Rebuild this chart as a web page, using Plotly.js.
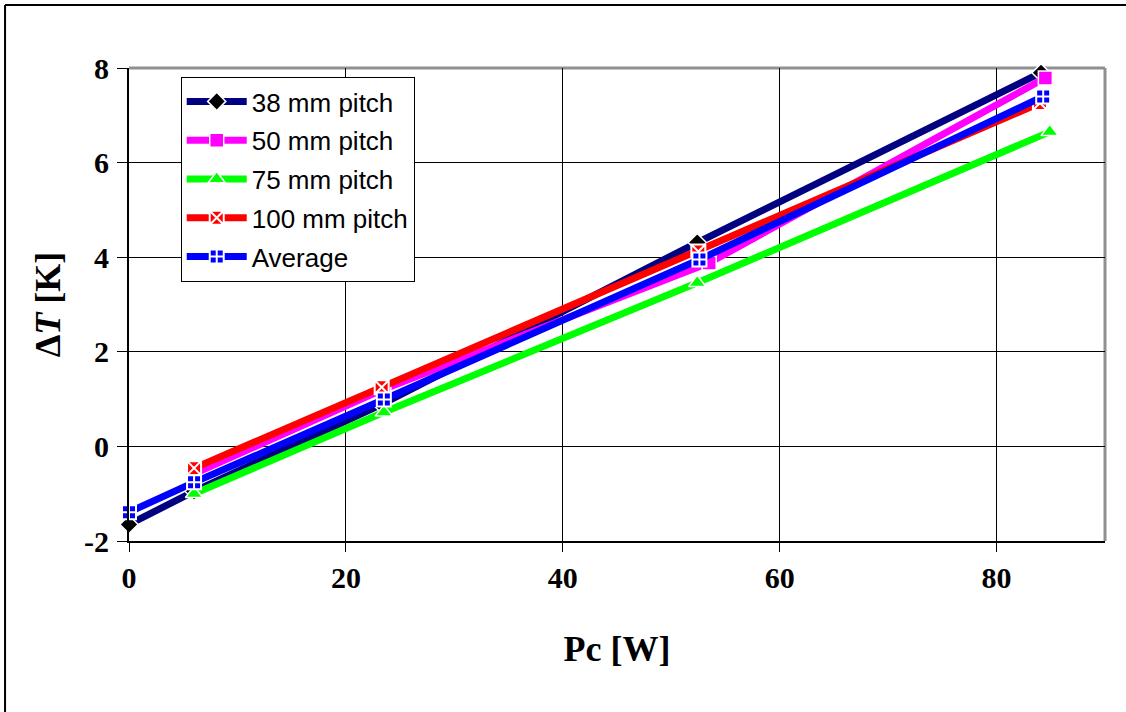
<!DOCTYPE html>
<html>
<head>
<meta charset="utf-8">
<script src="https://cdn.plot.ly/plotly-3.0.1.min.js"></script>
<style>html,body{margin:0;padding:0;background:#fff;}</style>
</head>
<body>
<div id="chart" style="width:1126px;height:712px;"></div>
<script>
// Data
const seriesNames = ["38 mm pitch", "50 mm pitch", "75 mm pitch", "100 mm pitch", "Average"];
const x38 = [0, 6, 23.3, 52.4, 84.1];
const y38 = [-1.65, -0.95, 0.89, 4.31, 7.9];
const x50 = [6, 23.5, 53.5, 84.5];
const y50 = [-0.58, 1.21, 3.88, 7.79];
const x75 = [6, 23.5, 52.4, 84.9];
const y75 = [-1.0, 0.72, 3.46, 6.65];
const x100 = [6, 23.3, 52.5, 84.0];
const y100 = [-0.46, 1.25, 4.12, 7.26];
const xAvg = [0, 6, 23.5, 52.6, 84.3];
const yAvg = [-1.39, -0.76, 0.99, 3.95, 7.4];
const xTickVals = [0, 20, 40, 60, 80];
const xTickText = ["0", "20", "40", "60", "80"];
const yTickVals = [-2, 0, 2, 4, 6, 8];
const yTickText = ["-2", "0", "2", "4", "6", "8"];

const lineW = 7;
function mk(name, xs, ys, color, symbol, size, mcolor, lcolor, lw, grp) {
  return {
    type: "scatter", mode: "lines+markers", name: name, x: xs, y: ys,
    legendgroup: grp, cliponaxis: false,
    line: {color: color, width: lineW},
    marker: {symbol: symbol, size: size, color: mcolor, line: {color: lcolor, width: lw}}
  };
}
const traces = [
  mk(seriesNames[0], x38, y38, "#000080", "diamond", 14, "#000000", "#ffffff", 1.5, "a"),
  mk(seriesNames[1], x50, y50, "#ff00ff", "square", 14, "#ff00ff", "#ffffff", 1.5, "b"),
  mk(seriesNames[2], x75, y75, "#00ff00", "triangle-up", 15, "#00ff00", "#ffffff", 1.5, "c"),
  mk(seriesNames[3], x100, y100, "#ff0000", "square-x", 14, "#ff0000", "#ffffff", 2, "d"),
  mk(seriesNames[4], xAvg, yAvg, "#0000ff", "square-cross", 14, "#0000ff", "#ffffff", 2, "e")
];

const tickFont = {family: "Liberation Serif, Times New Roman, serif", size: 30, color: "#000", weight: "bold"};
const titleFont = {family: "Liberation Serif, Times New Roman, serif", size: 36, color: "#000", weight: "bold"};

const layout = {
  width: 1126, height: 712,
  margin: {l: 129, r: 21, t: 68, b: 171},
  paper_bgcolor: "#ffffff", plot_bgcolor: "#ffffff",
  showlegend: true,
  legend: {
    x: 0.053, y: 0.981, xanchor: "left", yanchor: "top",
    bgcolor: "#ffffff", bordercolor: "#000000", borderwidth: 1,
    font: {family: "Liberation Sans, Arial, sans-serif", size: 26, color: "#000"},
    itemwidth: 60, tracegroupgap: 2
  },
  xaxis: {
    range: [0, 90], tickvals: xTickVals, ticktext: xTickText,
    showgrid: true, gridcolor: "#000000", gridwidth: 1, zeroline: false,
    showline: true, linecolor: "#000000", linewidth: 2,
    ticks: "outside", ticklen: 9, tickcolor: "#000", tickwidth: 1,
    tickfont: tickFont,
    title: {text: "Pc [W]", font: titleFont, standoff: 43}
  },
  yaxis: {
    range: [-2, 8], tickvals: yTickVals, ticktext: yTickText,
    showgrid: true, gridcolor: "#000000", gridwidth: 1, zeroline: false,
    showline: true, linecolor: "#000000", linewidth: 2,
    ticks: "outside", ticklen: 10, tickcolor: "#000", tickwidth: 1,
    ticklabelstandoff: 2,
    tickfont: tickFont,
    title: {text: "Δ<i>T</i> [K]", font: titleFont, standoff: 12}
  },
  shapes: [
    {type: "line", xref: "paper", yref: "paper", x0: 0, x1: 1, y0: 1, y1: 1, line: {color: "#909090", width: 3}, layer: "below"},
    {type: "line", xref: "paper", yref: "paper", x0: 1, x1: 1, y0: 0, y1: 1, line: {color: "#909090", width: 3}, layer: "below"},
    {type: "line", xref: "paper", yref: "paper", x0: -0.127, x1: 1.1, y0: 1.1332, y1: 1.1332, line: {color: "#000000", width: 2}},
    {type: "line", xref: "paper", yref: "paper", x0: -0.127, x1: -0.127, y0: -0.5, y1: 1.1332, line: {color: "#000000", width: 2}}
  ]
};

Plotly.newPlot("chart", traces, layout, {displayModeBar: false, staticPlot: true});
</script>
</body>
</html>
